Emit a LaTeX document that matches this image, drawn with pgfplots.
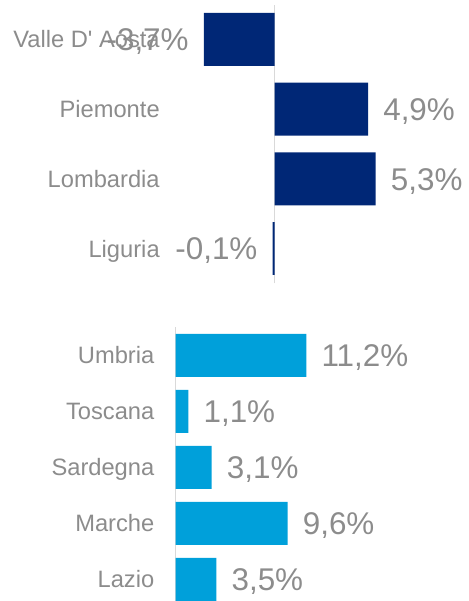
\documentclass[border=0pt]{standalone}
\usepackage{pgfplots}
\pgfplotsset{compat=1.18}
\usepackage{fontspec}
\setmainfont{Liberation Sans}[Ligatures=TeXOff]
\definecolor{navy}{RGB}{0,39,118}
\definecolor{cyanbar}{RGB}{0,160,218}
\definecolor{txtgray}{RGB}{140,140,140}
\definecolor{zerogray}{RGB}{217,217,217}
\newcommand{\labfont}{\fontsize{23.7pt}{28pt}\selectfont}
\newcommand{\valfont}{\fontsize{31.4pt}{36pt}\selectfont}
\pgfplotsset{
  mystyle/.style={
    scale only axis, xbar, bar shift=0pt,
    axis line style={draw=none},
    major tick length=0pt,
    xtick={0}, xticklabels={}, xmajorgrids,
    grid style={zerogray, line width=1.2pt},
    yticklabel style={font=\labfont, text=txtgray, anchor=east, inner sep=0pt, text height=17pt, text depth=0pt},
    nodes near coords,
    point meta=explicit symbolic,
    every node near coord/.append style={font=\valfont, text=txtgray, inner sep=0pt, text height=22.5pt, text depth=0pt},
    clip=false,
  },
  posv/.style={nodes near coords style={anchor=west, xshift=15pt}},
  negv/.style={nodes near coords style={anchor=east, xshift=-15pt}},
}
\begin{document}
\begin{tikzpicture}
\path[use as bounding box] (0pt,0pt) rectangle (468pt,601pt);
\begin{axis}[mystyle,
  at={(159.9pt,317.65pt)}, anchor=south west,
  width=305.6pt, height=278.7pt,
  xmin=-6, xmax=10, ymin=-0.5, ymax=3.5,
  bar width=0.76,
  ytick={0,1,2,3},
  yticklabels={Liguria,Lombardia,Piemonte,Valle D' Aosta},
]
\addplot[fill=navy, draw=none, posv] coordinates {
  (4.9,2) [4,9\%]
  (5.3,1) [5,3\%]
};
\addplot[fill=navy, draw=none, negv] coordinates {
  (-3.7,3) [-3,7\%]
  (-0.1,0) [-0,1\%]
};
\end{axis}
\begin{axis}[mystyle,
  at={(154.5pt,0pt)}, anchor=south west,
  width=313.0pt, height=273.56pt,
  xmin=-1.8, xmax=25, ymin=-0.385, ymax=4.5,
  bar width=0.77,
  ytick={0,1,2,3,4},
  yticklabels={Lazio,Marche,Sardegna,Toscana,Umbria},
]
\addplot[fill=cyanbar, draw=none, posv] coordinates {
  (3.5,0) [3,5\%]
  (9.6,1) [9,6\%]
  (3.1,2) [3,1\%]
  (1.1,3) [1,1\%]
  (11.2,4) [11,2\%]
};
\end{axis}
\end{tikzpicture}
\end{document}
